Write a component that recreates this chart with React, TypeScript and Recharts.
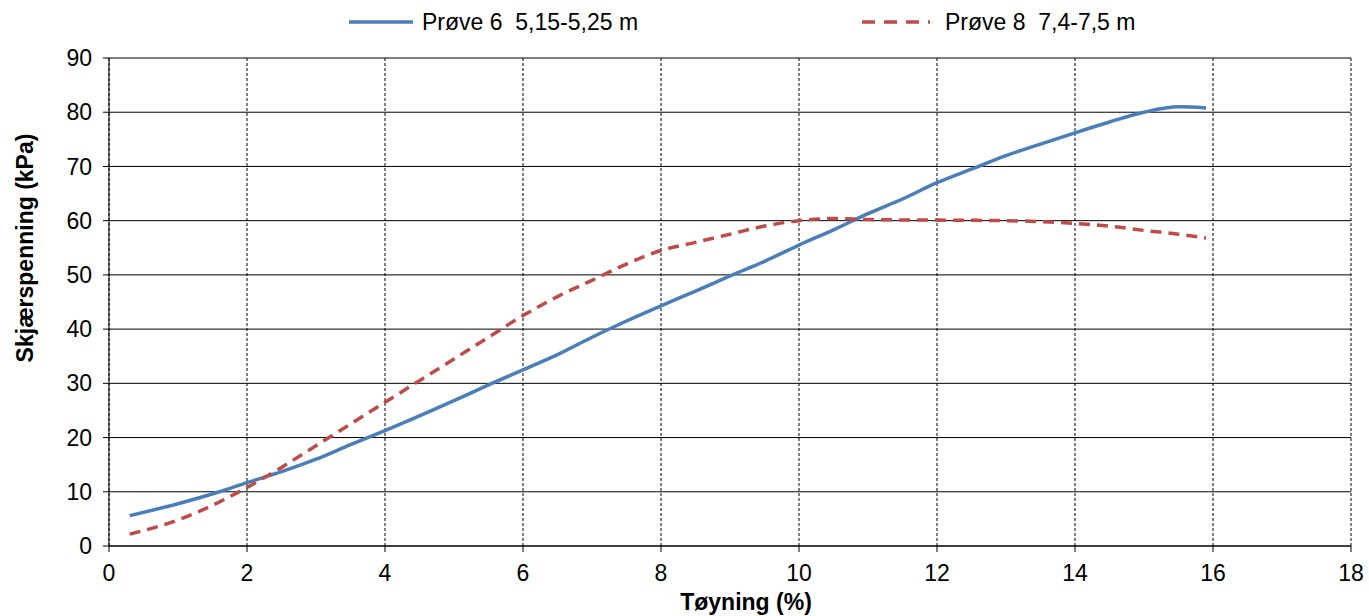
import React from 'react';
import {
  LineChart,
  Line,
  XAxis,
  YAxis,
  CartesianGrid,
} from 'recharts';

// Prøve 6 (5,15-5,25 m)
const strain6 = [0.3, 1, 1.6, 2, 2.5, 3, 3.5, 4, 4.5, 5, 5.5, 6, 6.5, 7, 7.5, 8, 8.5, 9, 9.5, 10, 10.5, 11, 11.5, 12, 12.5, 13, 13.5, 14, 14.5, 15, 15.5, 15.9];
const stress6 = [5.6, 7.8, 10, 11.7, 13.7, 16, 18.7, 21.3, 24, 26.8, 29.7, 32.5, 35.3, 38.5, 41.5, 44.3, 47, 49.8, 52.5, 55.5, 58.3, 61.3, 64, 67, 69.5, 72, 74.1, 76.2, 78.2, 80, 81, 80.8];

// Prøve 8 (7,4-7,5 m)
const strain8 = [0.3, 1, 1.5, 2, 2.5, 3, 3.5, 4, 4.5, 5, 5.5, 6, 6.5, 7, 7.5, 8, 8.5, 9, 9.5, 10, 10.5, 11, 12, 13, 14, 14.5, 15, 15.5, 15.9];
const stress8 = [2.2, 4.8, 7.5, 10.8, 14.5, 18.5, 22.5, 26.5, 30.5, 34.5, 38.5, 42.5, 46, 49, 52, 54.5, 56, 57.5, 59, 60, 60.4, 60.2, 60.1, 60, 59.5, 59, 58.2, 57.5, 56.8];

const xTicks = [0, 2, 4, 6, 8, 10, 12, 14, 16, 18];
const yTicks = [0, 10, 20, 30, 40, 50, 60, 70, 80, 90];

const series6 = strain6.map((x, i) => ({ x, y: stress6[i] }));
const series8 = strain8.map((x, i) => ({ x, y: stress8[i] }));

const FONT = '"Liberation Sans", Arial, sans-serif';
const FS = 23;
const BLUE = '#4a7ebb';
const RED = '#be4b48';

// legend sits above the plot, drawn as plain html so it doesn't eat plot space
const LegendRow = () => (
  <div style={{ position: 'absolute', left: 0, top: 0, width: 1369, height: 44, fontFamily: FONT, fontSize: FS, color: '#000', pointerEvents: 'none' }}>
    <svg style={{ position: 'absolute', left: 349, top: 18 }} width={66} height={8}>
      <line x1={0} y1={4} x2={64} y2={4} stroke={BLUE} strokeWidth={3.5} />
    </svg>
    <span style={{ position: 'absolute', left: 422, top: 9, lineHeight: '26px', whiteSpace: 'pre' }}>Prøve 6  5,15-5,25 m</span>
    <svg style={{ position: 'absolute', left: 862, top: 18 }} width={70} height={8}>
      <line x1={0} y1={4} x2={68} y2={4} stroke={RED} strokeWidth={3.5} strokeDasharray="13 9" />
    </svg>
    <span style={{ position: 'absolute', left: 945, top: 9, lineHeight: '26px', whiteSpace: 'pre' }}>Prøve 8  7,4-7,5 m</span>
  </div>
);

const XTitle = () => (
  <text x={746} y={610} textAnchor="middle" fill="#000" fontSize={FS} fontWeight="bold" fontFamily={FONT}>
    Tøyning (%)
  </text>
);

const YTitle = () => (
  <text x={0} y={0} transform="translate(33, 248) rotate(-90)" textAnchor="middle" fill="#000" fontSize={FS} fontWeight="bold" fontFamily={FONT}>
    Skjærspenning (kPa)
  </text>
);

export default function App() {
  return (
    <div style={{ position: 'relative', width: 1369, height: 616, background: '#fff' }}>
      <style>{`body{margin:0}`}</style>
      <LineChart
        width={1369}
        height={616}
        margin={{ top: 58, right: 18, bottom: 0, left: 0 }}
        style={{ fontFamily: FONT }}
      >
        <CartesianGrid horizontal={true} vertical={false} stroke="#000" strokeWidth={1} />
        <CartesianGrid horizontal={false} vertical={true} stroke="#000" strokeWidth={1} strokeDasharray="3 2" />
        <XAxis
          type="number"
          dataKey="x"
          domain={[0, 18]}
          ticks={xTicks}
          interval={0}
          height={70}
          axisLine={{ stroke: '#000' }}
          tickLine={{ stroke: '#000' }}
          tickSize={6}
          tickMargin={13}
          tick={{ fill: '#000', fontSize: FS }}
          label={{ content: () => <XTitle /> }}
        />
        <YAxis
          type="number"
          dataKey="y"
          domain={[0, 90]}
          ticks={yTicks}
          interval={0}
          width={109}
          axisLine={{ stroke: '#000' }}
          tickLine={{ stroke: '#000' }}
          tickSize={6}
          tickMargin={11}
          tick={{ fill: '#000', fontSize: FS }}
          label={{ content: () => <YTitle /> }}
        />
        <Line
          data={series6}
          dataKey="y"
          type="monotone"
          stroke={BLUE}
          strokeWidth={3.5}
          dot={false}
          activeDot={false}
          isAnimationActive={false}
          name="Prøve 6  5,15-5,25 m"
        />
        <Line
          data={series8}
          dataKey="y"
          type="monotone"
          stroke={RED}
          strokeWidth={3.5}
          strokeDasharray="11 7"
          dot={false}
          activeDot={false}
          isAnimationActive={false}
          name="Prøve 8  7,4-7,5 m"
        />
      </LineChart>
      <LegendRow />
    </div>
  );
}
